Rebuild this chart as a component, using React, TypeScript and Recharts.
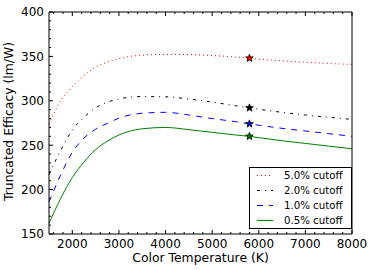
import React from "react";
import { ComposedChart, Line, Scatter, XAxis, YAxis, Legend, Label } from "recharts";

const temps = [1500, 1750, 2000, 2250, 2500, 2750, 3000, 3500, 4000, 4500, 5000, 5500, 5800, 6000, 6500, 7000, 7500, 8000];
const cut50 = [274, 300, 316, 328.5, 338, 343.5, 347.5, 351.4, 352.3, 352, 351, 349.3, 348, 347, 345, 343.5, 342, 341];
const cut20 = [217, 244, 267, 281.5, 292, 298.5, 302, 304.8, 304.5, 302, 298.5, 294.5, 292, 290.5, 287, 284, 281.5, 279];
const cut10 = [186, 216.5, 242, 258, 268, 274.5, 280.5, 286, 287, 284, 280, 276.5, 274, 272.5, 269, 266, 263, 260];
const cut05 = [162, 190, 213.5, 231, 245, 254.5, 261.5, 268.5, 270, 267.5, 264.5, 261.5, 260, 258.5, 255, 252, 249, 246];

const markTemp = 5800;

const xMajor = [2000, 3000, 4000, 5000, 6000, 7000, 8000];
const yMajor = [150, 200, 250, 300, 350, 400];

// minor ticks every 200 K and every 10 lm/W
const xTicks: number[] = [];
for (let t = 1600; t <= 8000; t += 200) xTicks.push(t);
const yTicks: number[] = [];
for (let v = 150; v <= 400; v += 10) yTicks.push(v);

const series = [
  { key: "c50", name: "5.0% cutoff", values: cut50, color: "#ff0000", dash: "1 3" },
  { key: "c20", name: "2.0% cutoff", values: cut20, color: "#000000", dash: "3 5 1 5" },
  { key: "c10", name: "1.0% cutoff", values: cut10, color: "#0000ff", dash: "6 6" },
  { key: "c05", name: "0.5% cutoff", values: cut05, color: "#008000", dash: undefined },
];

const data = temps.map((t, i) => {
  const row: any = { t };
  series.forEach((s) => (row[s.key] = s.values[i]));
  return row;
});

const FONT = "'DejaVu Sans', sans-serif";

// ticks point inward (matplotlib style), major 4px, minor 2px
const tickLen = (v: number, major: number[]) => (major.includes(v) ? 4 : 2);

const BottomTick = ({ x, y, payload }: any) => {
  const v = payload.value;
  const major = xMajor.includes(v);
  return (
    <g>
      <line x1={x} x2={x} y1={y} y2={y - tickLen(v, xMajor)} stroke="#000" />
      {major && (
        <text x={x} y={y + 13.8} textAnchor="middle" fontSize={12} fontFamily={FONT} fill="#000">{v}</text>
      )}
    </g>
  );
};

const TopTick = ({ x, y, payload }: any) => (
  <line x1={x} x2={x} y1={y} y2={y + tickLen(payload.value, xMajor)} stroke="#000" />
);

const LeftTick = ({ x, y, payload }: any) => {
  const v = payload.value;
  const major = yMajor.includes(v);
  return (
    <g>
      <line x1={x} x2={x + tickLen(v, yMajor)} y1={y} y2={y} stroke="#000" />
      {major && (
        <text x={x - 5} y={y + 4.4} textAnchor="end" fontSize={12} fontFamily={FONT} fill="#000">{v}</text>
      )}
    </g>
  );
};

const RightTick = ({ x, y, payload }: any) => (
  <line x1={x} x2={x - tickLen(payload.value, yMajor)} y1={y} y2={y} stroke="#000" />
);

const Star = (props: any) => {
  const { cx, cy, fill } = props;
  const pts: string[] = [];
  for (let i = 0; i < 10; i++) {
    const r = i % 2 === 0 ? 4 : 1.7;
    const a = -Math.PI / 2 + (i * Math.PI) / 5;
    pts.push(`${cx + r * Math.cos(a)},${cy + r * Math.sin(a)}`);
  }
  return <polygon points={pts.join(" ")} fill={fill} stroke="#000" strokeWidth={0.8} />;
};

const YLabel = () => {
  const x = 13.3;
  const cy = 121.5;
  return (
    <text x={x} y={cy} transform={`rotate(-90, ${x}, ${cy})`} textAnchor="middle" fontSize={12.4} fontFamily={FONT} fill="#000">
      Truncated Efficacy (lm/W)
    </text>
  );
};

const renderLegend = () => (
  <div style={{ border: "1px solid #000", background: "#fff", width: 101, height: 60, fontFamily: FONT, fontSize: 10.2 }}>
    {series.map((s) => (
      <div key={s.key} style={{ display: "flex", alignItems: "center", height: 15 }}>
        <svg width={34} height={15} style={{ display: "block" }}>
          <line x1={7} x2={23} y1={7.5} y2={7.5} stroke={s.color} strokeWidth={1} strokeDasharray={s.dash} />
        </svg>
        <span style={{ color: "#000", lineHeight: "15px", whiteSpace: "nowrap" }}>{s.name}</span>
      </div>
    ))}
  </div>
);

const black = { stroke: "#000", strokeWidth: 1 };

export default function App() {
  return (
    <div style={{ position: "absolute", left: 0, top: 0, background: "#fff" }}>
      <ComposedChart width={375} height={270} data={data} margin={{ top: 11, right: 22, bottom: 0, left: 0 }}>
        <XAxis xAxisId="x" dataKey="t" type="number" domain={[1500, 8000]} ticks={xTicks} interval={0}
          tickLine={false} axisLine={black} tick={BottomTick} tickSize={0} tickMargin={0} height={36}
          label={{ value: "Color Temperature (K)", position: "insideBottom", offset: 8, fill: "#000", fontSize: 12.4, fontFamily: FONT }} />
        <XAxis xAxisId="top" orientation="top" dataKey="t" type="number" domain={[1500, 8000]} ticks={xTicks} interval={0}
          tickLine={false} axisLine={black} tick={TopTick} tickSize={0} tickMargin={0} height={1} />

        <YAxis yAxisId="l" type="number" domain={[150, 400]} ticks={yTicks} interval={0}
          tickLine={false} axisLine={black} tick={LeftTick} tickSize={0} tickMargin={0} width={49}>
          <Label content={<YLabel />} />
        </YAxis>
        <YAxis yAxisId="r" orientation="right" type="number" domain={[150, 400]} ticks={yTicks} interval={0}
          tickLine={false} axisLine={black} tick={RightTick} tickSize={0} tickMargin={0} width={1} />

        {series.map((s) => (
          <Line key={s.key} xAxisId="x" yAxisId="l" type="monotone" dataKey={s.key} name={s.name}
            stroke={s.color} strokeWidth={1} strokeDasharray={s.dash} dot={false} isAnimationActive={false} />
        ))}
        {series.map((s) => (
          <Scatter key={s.key + "-star"} xAxisId="x" yAxisId="l" dataKey="v"
            data={[{ t: markTemp, v: s.values[temps.indexOf(markTemp)] }]}
            fill={s.color} shape={<Star />} isAnimationActive={false} legendType="none" />
        ))}

        <Legend layout="vertical" align="center" verticalAlign="middle" content={renderLegend}
          wrapperStyle={{ left: 249, top: 167, right: "auto", bottom: "auto", width: 103, height: 62 }} />
      </ComposedChart>
    </div>
  );
}
